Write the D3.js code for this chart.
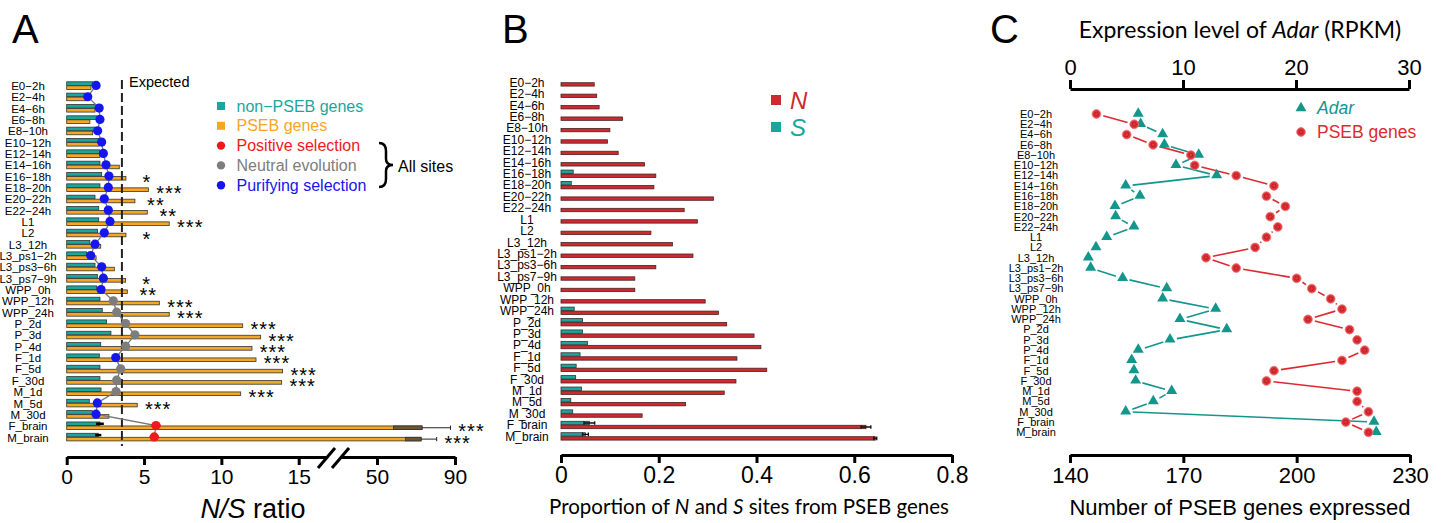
<!DOCTYPE html>
<html lang="en">
  <head>
    <meta charset="utf-8">
    <title>N/S ratio, PSEB proportions and Adar expression</title>
    <script type="text/javascript" src="https://cdn.jsdelivr.net/npm/d3@7/dist/d3.min.js"></script>
    <style>
      body { margin: 0; background: #fff; }
      text { font-family: "Liberation Sans", Arial, sans-serif; }
      .cal { font-family: Lato, "Open Sans", sans-serif; }
      .axis path, .axis line { stroke: #000; stroke-width: 3; fill: none; }
      .axis text { fill: #000; }
    </style>
  </head>
  <body>
    <script type="text/javascript">

      // ---------- data ----------
      var categories = ["E0−2h", "E2−4h", "E4−6h", "E6−8h", "E8−10h", "E10−12h", "E12−14h",
                        "E14−16h", "E16−18h", "E18−20h", "E20−22h", "E22−24h", "L1", "L2",
                        "L3_12h", "L3_ps1−2h", "L3_ps3−6h", "L3_ps7−9h", "WPP_0h", "WPP_12h",
                        "WPP_24h", "P_2d", "P_3d", "P_4d", "F_1d", "F_5d", "F_30d", "M_1d",
                        "M_5d", "M_30d", "F_brain", "M_brain"];

      // panel A: N/S ratio
      var nsNonPseb = [1.72, 1.18, 1.90, 1.98, 1.83, 2.09, 2.15, 2.15, 2.26, 2.15, 1.83, 2.07, 2.07, 2.00,
                       1.50, 1.29, 1.83, 1.98, 1.94, 2.15, 2.30, 2.58, 2.86, 2.20, 2.11, 2.15, 2.15, 2.22,
                       1.46, 1.66, 2.15, 2.04];
      var nsNonPsebErr = [0, 0, 0, 0, 0, 0, 0, 0, 0, 0, 0, 0, 0, 0, 0, 0, 0, 0, 0, 0, 0, 0, 0, 0, 0, 0, 0, 0,
                          0, 0, 0.25, 0.2];
      var nsPseb = [1.57, 1.25, 1.83, 1.50, 1.68, 2.10, 2.15, 3.40, 3.83, 5.28, 4.41, 5.21, 6.63, 3.83,
                    2.20, 1.90, 3.08, 3.81, 3.92, 5.99, 6.63, 11.38, 12.54, 11.98, 12.24, 13.96, 13.90, 11.25,
                    4.56, 2.73, 73.1, 72.6];
      var nsPsebErr = [0, 0, 0, 0, 0, 0, 0, 0, 0, 0, 0, 0, 0, 0, 0, 0, 0, 0, 0, 0, 0, 0, 0, 0, 0, 0, 0, 0,
                       0, 0, 14.6, 8.0];
      var nsAllSites = [1.90, 1.36, 2.10, 2.15, 2.00, 2.26, 2.37, 2.54, 2.73, 2.69, 2.43, 2.69, 2.80, 2.43,
                        1.83, 1.55, 2.26, 2.37, 2.22, 3.01, 3.23, 3.81, 4.41, 3.81, 3.17, 3.49, 3.23, 3.19,
                        1.98, 1.90, 5.77, 5.66];
      var nsAllSitesErr = [0, 0, 0, 0, 0, 0, 0, 0, 0, 0, 0, 0, 0, 0, 0, 0, 0, 0, 0, 0, 0, 0, 0, 0, 0, 0, 0, 0,
                           0, 0, 0.3, 0.3];
      var selection = ["pur", "pur", "pur", "pur", "pur", "pur", "pur", "pur", "pur", "pur", "pur", "pur",
                       "pur", "pur", "pur", "pur", "pur", "pur", "pur", "neu", "neu", "neu", "neu", "neu",
                       "pur", "neu", "neu", "neu", "pur", "pur", "pos", "pos"];
      var stars = ["", "", "", "", "", "", "", "", "*", "***", "**", "**", "***", "*", "", "", "", "*", "**",
                   "***", "***", "***", "***", "***", "***", "***", "***", "***", "***", "", "***", "***"];
      var expectedNS = 3.57;
      var nsTicks = [0, 5, 10, 15, 50, 90];

      // panel B: proportion of N and S sites from PSEB genes
      var propN = [0.068, 0.073, 0.078, 0.126, 0.100, 0.095, 0.117, 0.171, 0.194, 0.190, 0.312, 0.252, 0.279,
                   0.184, 0.228, 0.270, 0.194, 0.151, 0.151, 0.295, 0.322, 0.339, 0.395, 0.409, 0.360, 0.421,
                   0.358, 0.334, 0.255, 0.166, 0.624, 0.643];
      var propNErr = [0, 0, 0, 0, 0, 0, 0, 0, 0, 0, 0, 0, 0, 0, 0, 0, 0, 0, 0, 0, 0, 0, 0, 0, 0, 0, 0, 0,
                      0, 0, 0.010, 0.003];
      var propS = [0, 0, 0, 0, 0, 0, 0, 0, 0.025, 0.021, 0, 0, 0, 0, 0, 0, 0, 0, 0, 0, 0.027, 0.044, 0.044,
                   0.054, 0.039, 0.031, 0.030, 0.042, 0.020, 0.024, 0.058, 0.050];
      var propSErr = [0, 0, 0, 0, 0, 0, 0, 0, 0, 0, 0, 0, 0, 0, 0, 0, 0, 0, 0, 0, 0, 0, 0, 0, 0, 0, 0, 0,
                      0, 0, 0.011, 0.006];
      var propTicks = [0, 0.2, 0.4, 0.6, 0.8];

      // panel C: Adar expression and number of PSEB genes expressed
      var adarRpkm = [6.04, 6.25, 8.20, 8.35, 11.39, 9.38, 12.98, 4.93, 6.19, 3.98, 4.04, 5.66, 3.25, 2.30,
                      1.62, 1.83, 4.66, 8.56, 8.20, 12.89, 9.73, 13.87, 8.85, 6.04, 5.46, 5.66, 5.81, 9.00,
                      7.37, 4.93, 26.9, 27.1];
      var psebExpressed = [147, 157, 155, 162, 172, 173, 184, 194, 192, 197, 193, 195, 192, 189, 176, 184,
                           200, 204, 209, 212, 203, 214, 216, 218, 212, 194, 192, 216, 216, 219, 213, 219];
      var rpkmTicks = [0, 10, 20, 30];
      var genesTicks = [140, 170, 200, 230];

      // ---------- setup ----------
      var w = 1441;
      var h = 523;
      var teal = "#1aa69d";
      var orange = "#f5a623";
      var redB = "#cc2a2e";
      var redC = "#e0353b";
      var selColor = { pur: "#1515f0", neu: "#7d7d7d", pos: "#f01818" };

      var mySvg = d3.select("body")
                    .append("svg")
                    .attr("width", w)
                    .attr("height", h);

      var idx = d3.range(categories.length);

      function panelLetter(t, x) {
        mySvg.append("text").text(t)
             .attr("x", x).attr("y", 43)
             .attr("font-size", "40px");
      }
      panelLetter("A", 12);
      panelLetter("B", 502);
      panelLetter("C", 990);

      // ========== panel A ==========
      var yA = d3.scalePoint().domain(idx).range([86, 437.5]);
      var xA = d3.scaleLinear().domain([0, 15, 50, 90]).range([66.7, 298.7, 377, 455]);

      var gA = mySvg.append("g");

      gA.selectAll("text.cat")
        .data(idx).enter().append("text")
        .attr("class", "cat")
        .attr("x", 28).attr("y", function(i) { return yA(i); })
        .attr("dy", "0.35em")
        .attr("text-anchor", "middle")
        .attr("font-size", "11.5px")
        .text(function(i) { return categories[i]; });

      gA.selectAll("rect.np")
        .data(idx).enter().append("rect")
        .attr("x", xA(0))
        .attr("y", function(i) { return yA(i) - 4.2; })
        .attr("width", function(i) { return xA(nsNonPseb[i]) - xA(0); })
        .attr("height", 3.6)
        .attr("fill", teal).attr("stroke", "#333").attr("stroke-width", 0.8);

      gA.selectAll("rect.ps")
        .data(idx).enter().append("rect")
        .attr("x", xA(0))
        .attr("y", function(i) { return yA(i) - 0.2; })
        .attr("width", function(i) { return xA(nsPseb[i]) - xA(0); })
        .attr("height", 3.6)
        .attr("fill", orange).attr("stroke", "#333").attr("stroke-width", 0.8);

      // error parts of the brain bars
      var errIdx = idx.filter(function(i) { return nsPsebErr[i] > 0; });
      gA.selectAll("rect.pe")
        .data(errIdx).enter().append("rect")
        .attr("x", function(i) { return xA(nsPseb[i] - nsPsebErr[i]); })
        .attr("y", function(i) { return yA(i) - 0.2; })
        .attr("width", function(i) { return xA(nsPseb[i]) - xA(nsPseb[i] - nsPsebErr[i]); })
        .attr("height", 3.6)
        .attr("fill", "#74552a").attr("stroke", "#333").attr("stroke-width", 0.8);
      gA.selectAll("line.pe")
        .data(errIdx).enter().append("line")
        .attr("x1", function(i) { return xA(nsPseb[i]); })
        .attr("x2", function(i) { return xA(nsPseb[i] + nsPsebErr[i]); })
        .attr("y1", function(i) { return yA(i) + 1.6; })
        .attr("y2", function(i) { return yA(i) + 1.6; })
        .attr("stroke", "#222").attr("stroke-width", 1);
      gA.selectAll("line.pec")
        .data(errIdx).enter().append("line")
        .attr("x1", function(i) { return xA(nsPseb[i] + nsPsebErr[i]); })
        .attr("x2", function(i) { return xA(nsPseb[i] + nsPsebErr[i]); })
        .attr("y1", function(i) { return yA(i) - 0.5; })
        .attr("y2", function(i) { return yA(i) + 3.7; })
        .attr("stroke", "#222").attr("stroke-width", 1);
      gA.selectAll("line.ne")
        .data(idx.filter(function(i) { return nsNonPsebErr[i] > 0; })).enter().append("line")
        .attr("x1", function(i) { return xA(nsNonPseb[i] - nsNonPsebErr[i]); })
        .attr("x2", function(i) { return xA(nsNonPseb[i] + nsNonPsebErr[i]); })
        .attr("y1", function(i) { return yA(i) - 2.4; })
        .attr("y2", function(i) { return yA(i) - 2.4; })
        .attr("stroke", "#000").attr("stroke-width", 2.5);

      // expected line
      gA.append("line")
        .attr("x1", xA(expectedNS)).attr("x2", xA(expectedNS))
        .attr("y1", 80).attr("y2", 446)
        .attr("stroke", "#222").attr("stroke-width", 2)
        .attr("stroke-dasharray", "9,4");
      gA.append("text").text("Expected")
        .attr("x", 129).attr("y", 87)
        .attr("font-size", "14.5px");

      // all sites line and dots
      var lineA = d3.line()
                    .x(function(i) { return xA(nsAllSites[i]); })
                    .y(function(i) { return yA(i) - 0.6; });
      gA.append("path")
        .attr("d", lineA(idx))
        .attr("fill", "none").attr("stroke", "#777").attr("stroke-width", 1.3);
      gA.selectAll("line.de")
        .data(idx.filter(function(i) { return nsAllSitesErr[i] > 0; })).enter().append("line")
        .attr("x1", function(i) { return xA(nsAllSites[i] - nsAllSitesErr[i]); })
        .attr("x2", function(i) { return xA(nsAllSites[i] + nsAllSitesErr[i]); })
        .attr("y1", function(i) { return yA(i) - 0.6; })
        .attr("y2", function(i) { return yA(i) - 0.6; })
        .attr("stroke", function(i) { return selColor[selection[i]]; })
        .attr("stroke-width", 2.5);
      gA.selectAll("circle.dot")
        .data(idx).enter().append("circle")
        .attr("cx", function(i) { return xA(nsAllSites[i]); })
        .attr("cy", function(i) { return yA(i) - 0.6; })
        .attr("r", 4.6)
        .attr("fill", function(i) { return selColor[selection[i]]; });

      // significance stars
      gA.selectAll("text.star")
        .data(idx.filter(function(i) { return stars[i] !== ""; })).enter().append("text")
        .attr("x", function(i) { return xA(nsPseb[i] + nsPsebErr[i]) + 21; })
        .attr("y", function(i) { return yA(i) + 12.3; })
        .attr("text-anchor", "middle")
        .attr("font-size", "20px")
        .attr("letter-spacing", "1px")
        .text(function(i) { return stars[i]; });

      // axis A with a break
      var xAxisA = d3.axisBottom(xA).tickValues(nsTicks).tickSize(8).tickSizeOuter(0).tickPadding(4);
      var axA = gA.append("g").attr("class", "axis")
                  .attr("transform", "translate(0,457)")
                  .call(xAxisA);
      axA.selectAll("text").attr("font-size", "21px").attr("font-family", "Liberation Sans, Arial, sans-serif");
      gA.append("rect").attr("x", 326).attr("y", 452).attr("width", 14).attr("height", 10).attr("fill", "#fff");
      gA.append("line").attr("x1", 318).attr("y1", 468).attr("x2", 335).attr("y2", 448)
        .attr("stroke", "#000").attr("stroke-width", 3);
      gA.append("line").attr("x1", 332).attr("y1", 468).attr("x2", 349).attr("y2", 448)
        .attr("stroke", "#000").attr("stroke-width", 3);

      var tA = gA.append("text").attr("x", 253).attr("y", 518).attr("text-anchor", "middle")
                 .attr("font-size", "27px");
      tA.append("tspan").attr("font-style", "italic").text("N/S");
      tA.append("tspan").text(" ratio");

      // legend A
      var legA = [
        { label: "non−PSEB genes", color: teal, shape: "sq" },
        { label: "PSEB genes", color: orange, shape: "sq" },
        { label: "Positive selection", color: selColor.pos, shape: "ci" },
        { label: "Neutral evolution", color: selColor.neu, shape: "ci" },
        { label: "Purifying selection", color: selColor.pur, shape: "ci" }
      ];
      legA.forEach(function(d, k) {
        var y = 106 + k * 19.8;
        if (d.shape === "sq") {
          gA.append("rect").attr("x", 217).attr("y", y - 4).attr("width", 8).attr("height", 8).attr("fill", d.color);
        } else {
          gA.append("circle").attr("cx", 221).attr("cy", y).attr("r", 4.2).attr("fill", d.color);
        }
        gA.append("text").text(d.label)
          .attr("x", 236.5).attr("y", y).attr("dy", "0.35em")
          .attr("font-size", "16px").attr("fill", d.color);
      });
      gA.append("path")
        .attr("d", "M379,143 Q386,143 386,151 L386,159 Q386,165 393,165 Q386,165 386,171 L386,179 Q386,187 379,187")
        .attr("fill", "none").attr("stroke", "#000").attr("stroke-width", 2.5);
      gA.append("text").text("All sites")
        .attr("x", 398).attr("y", 166).attr("dy", "0.35em")
        .attr("font-size", "16px");

      // ========== panel B ==========
      var yB = d3.scalePoint().domain(idx).range([82.5, 436.5]);
      var xB = d3.scaleLinear().domain([0, 0.8]).range([561, 952]);
      var gB = mySvg.append("g");

      gB.selectAll("text.cat")
        .data(idx).enter().append("text")
        .attr("x", 527).attr("y", function(i) { return yB(i); })
        .attr("dy", "0.35em")
        .attr("text-anchor", "middle")
        .attr("font-size", "12px")
        .text(function(i) { return categories[i]; });

      gB.selectAll("rect.s")
        .data(idx).enter().append("rect")
        .attr("x", xB(0))
        .attr("y", function(i) { return yB(i) - 3.8; })
        .attr("width", function(i) { return xB(propS[i]) - xB(0); })
        .attr("height", 3.4)
        .attr("fill", teal).attr("stroke", "#333").attr("stroke-width", 0.8);
      gB.selectAll("rect.n")
        .data(idx).enter().append("rect")
        .attr("x", xB(0))
        .attr("y", function(i) { return yB(i) + 0.2; })
        .attr("width", function(i) { return xB(propN[i]) - xB(0); })
        .attr("height", 3.4)
        .attr("fill", redB).attr("stroke", "#4a2222").attr("stroke-width", 0.8);

      var errB = idx.filter(function(i) { return propNErr[i] > 0; });
      function errBar(g, vals, errs, dy) {
        g.selectAll(null).data(errB).enter().append("path")
         .attr("d", function(i) {
           var a = xB(vals[i] - errs[i]), b = xB(vals[i] + errs[i]), y = yB(i) + dy;
           return "M" + a + "," + y + "H" + b + "M" + a + "," + (y - 1.8) + "V" + (y + 1.8) +
                  "M" + b + "," + (y - 1.8) + "V" + (y + 1.8);
         })
         .attr("stroke", "#111").attr("stroke-width", 1.3).attr("fill", "none");
      }
      errBar(gB, propN, propNErr, 1.9);
      errBar(gB, propS, propSErr, -2.1);

      var xAxisB = d3.axisBottom(xB).tickValues(propTicks).tickFormat(function(d) { return d === 0 ? "0" : d3.format(".1f")(d); })
                     .tickSize(8).tickSizeOuter(0).tickPadding(4);
      var axB = gB.append("g").attr("class", "axis")
                  .attr("transform", "translate(0,455)")
                  .call(xAxisB);
      axB.selectAll("text").attr("font-size", "23px").attr("font-family", "Lato, sans-serif");

      var tB = gB.append("text").attr("class", "cal").attr("x", 749).attr("y", 514)
                 .attr("text-anchor", "middle").attr("font-size", "20.5px");
      tB.append("tspan").text("Proportion of ");
      tB.append("tspan").attr("font-style", "italic").text("N");
      tB.append("tspan").text(" and ");
      tB.append("tspan").attr("font-style", "italic").text("S");
      tB.append("tspan").text(" sites from  PSEB genes");

      [{ t: "N", c: redB, y: 100 }, { t: "S", c: teal, y: 127 }].forEach(function(d) {
        gB.append("rect").attr("x", 771).attr("y", d.y - 5).attr("width", 10).attr("height", 10).attr("fill", d.c);
        gB.append("text").text(d.t).attr("x", 790).attr("y", d.y).attr("dy", "0.36em")
          .attr("font-size", "24px").attr("font-style", "italic").attr("fill", d.c);
      });

      // ========== panel C ==========
      var yC = d3.scalePoint().domain(idx).range([114, 432.3]);
      var xTop = d3.scaleLinear().domain([0, 30]).range([1070, 1409]);
      var xBot = d3.scaleLinear().domain([140, 230]).range([1070, 1410]);
      var gC = mySvg.append("g");

      gC.selectAll("text.cat")
        .data(idx).enter().append("text")
        .attr("x", 1036).attr("y", function(i) { return yC(i); })
        .attr("dy", "0.35em")
        .attr("text-anchor", "middle")
        .attr("font-size", "11px")
        .text(function(i) { return categories[i]; });

      function gapLines(g, pts, gap, color) {
        for (var k = 0; k < pts.length - 1; k++) {
          var p = pts[k], q = pts[k + 1];
          var dx = q[0] - p[0], dy = q[1] - p[1], L = Math.sqrt(dx * dx + dy * dy);
          if (L <= 2 * gap + 1) continue;
          var ux = dx / L, uy = dy / L;
          g.append("line")
           .attr("x1", p[0] + ux * gap).attr("y1", p[1] + uy * gap)
           .attr("x2", q[0] - ux * gap).attr("y2", q[1] - uy * gap)
           .attr("stroke", color).attr("stroke-width", 1.6);
        }
      }
      var ptsAdar = idx.map(function(i) { return [xTop(adarRpkm[i]), yC(i)]; });
      var ptsGenes = idx.map(function(i) { return [xBot(psebExpressed[i]), yC(i)]; });
      gapLines(gC, ptsAdar, 7, "#13968c");
      gapLines(gC, ptsGenes, 7, "#dd2a30");

      var tri = d3.symbol().type(d3.symbolTriangle).size(52);
      gC.selectAll("path.tri")
        .data(idx).enter().append("path")
        .attr("d", tri)
        .attr("transform", function(i) { return "translate(" + xTop(adarRpkm[i]) + "," + (yC(i) - 0.5) + ")"; })
        .attr("fill", "#13968c");
      function genesDot(g, x, y) {
        g.append("circle").attr("cx", x).attr("cy", y).attr("r", 4.4)
         .attr("fill", redC).attr("stroke", "#f07a7a").attr("stroke-width", 0.8);
        g.append("circle").attr("cx", x).attr("cy", y).attr("r", 2)
         .attr("fill", "none").attr("stroke", "#a81a1f").attr("stroke-width", 0.8);
      }
      idx.forEach(function(i) { genesDot(gC, xBot(psebExpressed[i]), yC(i)); });

      var axTop = gC.append("g").attr("class", "axis")
                    .attr("transform", "translate(0,89)")
                    .call(d3.axisTop(xTop).tickValues(rpkmTicks).tickSize(9).tickSizeOuter(0).tickPadding(5));
      axTop.selectAll("text").attr("font-size", "22px").attr("font-family", "Liberation Sans, Arial, sans-serif");
      var axBot = gC.append("g").attr("class", "axis")
                    .attr("transform", "translate(0,455)")
                    .call(d3.axisBottom(xBot).tickValues(genesTicks).tickSize(8).tickSizeOuter(0).tickPadding(4));
      axBot.selectAll("text").attr("font-size", "22px").attr("font-family", "Liberation Sans, Arial, sans-serif");

      var tC = gC.append("text").attr("class", "cal").attr("x", 1240).attr("y", 38)
                 .attr("text-anchor", "middle").attr("font-size", "23px");
      tC.append("tspan").text("Expression level of ");
      tC.append("tspan").attr("font-style", "italic").text("Adar");
      tC.append("tspan").text(" (RPKM)");

      gC.append("text").text("Number of PSEB genes expressed")
        .attr("x", 1240).attr("y", 515).attr("text-anchor", "middle")
        .attr("font-size", "22px");

      // legend C
      gC.append("path").attr("d", tri).attr("transform", "translate(1301,108)").attr("fill", "#13968c");
      gC.append("text").text("Adar").attr("x", 1317).attr("y", 108).attr("dy", "0.35em")
        .attr("font-size", "17.5px").attr("font-style", "italic").attr("fill", "#13968c");
      genesDot(gC, 1301, 132);
      gC.append("text").text("PSEB genes").attr("x", 1317).attr("y", 132).attr("dy", "0.35em")
        .attr("font-size", "17.5px").attr("fill", "#dd2a30");

    </script>
  </body>
</html>
